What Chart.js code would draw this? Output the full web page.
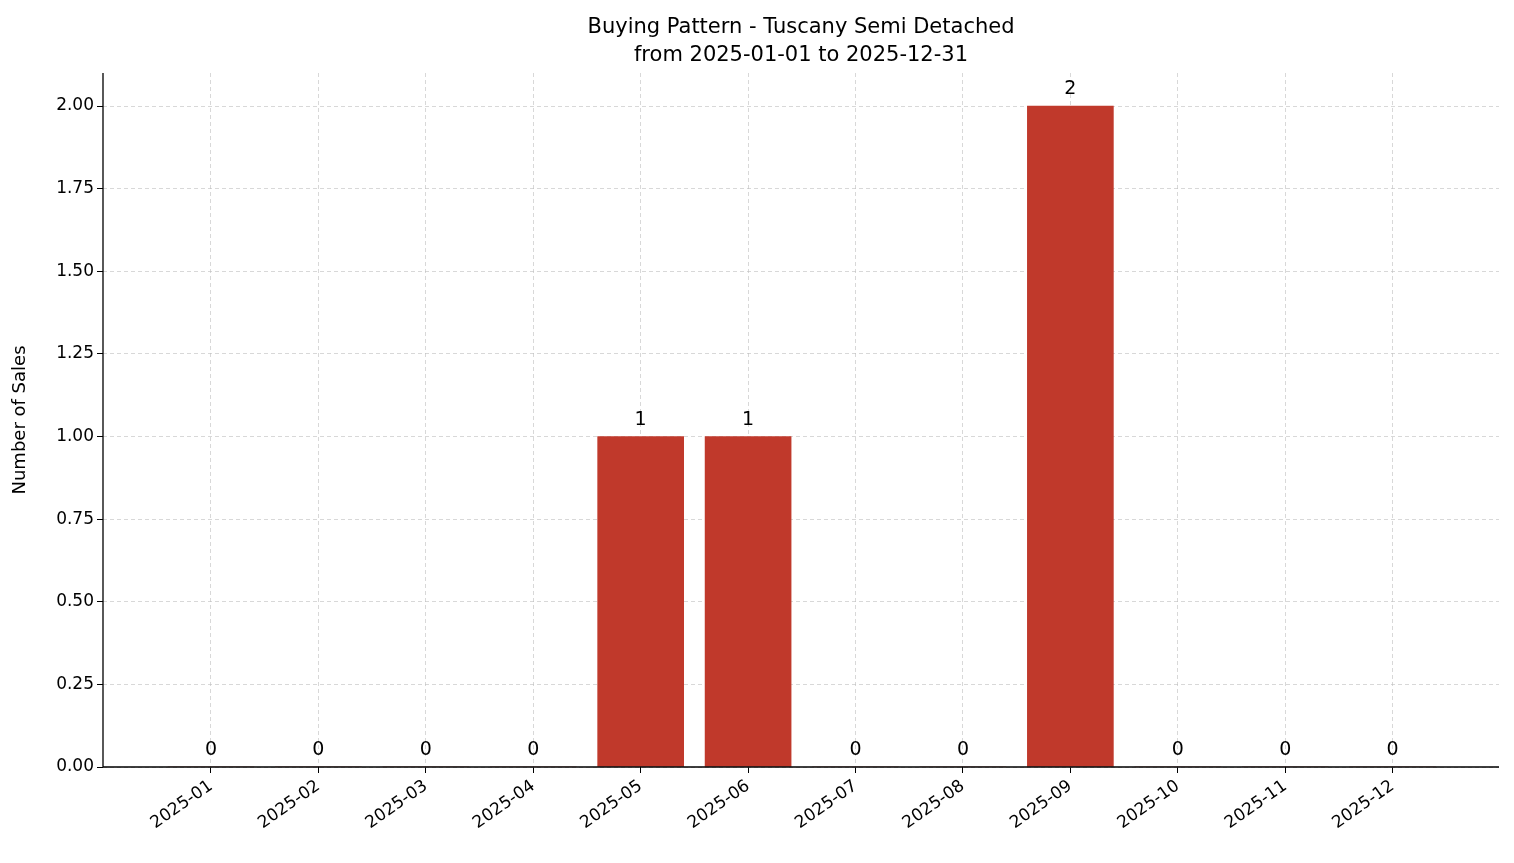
<!DOCTYPE html>
<html><head><meta charset="utf-8">
<script src="https://cdn.jsdelivr.net/npm/chart.js@4/dist/chart.umd.min.js"></script>
<style>html,body{margin:0;padding:0;background:#fff}#w{width:1514px;height:863px}</style>
</head><body><div id="w"><canvas id="c"></canvas></div>
<script>
const months = ["2025-01","2025-02","2025-03","2025-04","2025-05","2025-06","2025-07","2025-08","2025-09","2025-10","2025-11","2025-12"];
const sales = [0,0,0,0,1,1,0,0,2,0,0,0];
const titleLines = ["Buying Pattern - Tuscany Semi Detached","from 2025-01-01 to 2025-12-31"];
const FONT = "'DejaVu Sans', sans-serif";

const overlay = {
  id:'overlay',
  afterDatasetsDraw(chart){
    const ctx = chart.ctx, xs = chart.scales.x, ys = chart.scales.y;
    ctx.save();
    ctx.fillStyle = '#000';
    ctx.font = '19px ' + FONT;
    ctx.textAlign = 'center'; ctx.textBaseline = 'alphabetic';
    sales.forEach((v,i)=>{ ctx.fillText(String(v), xs.getPixelForValue(i), ys.getPixelForValue(v)-12); });
    ctx.font = '21px ' + FONT;
    ctx.fillText(titleLines[0], 801, 33);
    ctx.fillText(titleLines[1], 801, 61);
    ctx.strokeStyle = '#000'; ctx.lineWidth = 1.3;
    const a = chart.chartArea;
    ctx.beginPath(); ctx.moveTo(a.left, a.top); ctx.lineTo(a.left, a.bottom); ctx.lineTo(a.right, a.bottom); ctx.stroke();
    ctx.restore();
  }
};

new Chart(document.getElementById('c'), {
  type:'bar',
  data:{ datasets:[{ data: sales.map((v,i)=>({x:i,y:v})), backgroundColor:'#c0392b', borderWidth:0, barThickness:86 }] },
  options:{
    responsive:true, maintainAspectRatio:false, animation:false,
    layout:{ padding:{ top:73, right:15, left:0, bottom:0 } },
    plugins:{ legend:{display:false}, tooltip:{enabled:false}, title:{display:false} },
    scales:{
      x:{ type:'linear', min:-1.005, max:11.99, offset:false,
        afterFit(s){ s.height = 96; },
        afterBuildTicks(s){ s.ticks = months.map((m,i)=>({value:i})); },
        border:{display:false, dash:[4,3]},
        grid:{ offset:false, color:'rgba(190,190,190,0.6)', drawTicks:true, tickLength:6, tickColor:'#000' },
        ticks:{ autoSkip:false, maxRotation:35, minRotation:35, color:'#000', font:{family:FONT,size:17},
          callback:(v)=>months[v] }
      },
      y:{ min:0, max:2.1,
        afterFit(s){ s.width = 103; },
        afterBuildTicks(s){ s.ticks = [0,0.25,0.5,0.75,1,1.25,1.5,1.75,2].map(v=>({value:v})); },
        border:{display:false, dash:[4,3]},
        grid:{ color:'rgba(190,190,190,0.6)', tickLength:6, tickColor:'#000' },
        ticks:{ color:'#000', font:{family:FONT,size:17}, callback:(v)=>Number(v).toFixed(2) },
        title:{ display:true, text:'Number of Sales', color:'#000', font:{family:FONT,size:18}, padding:{top:10,bottom:4} }
      }
    }
  },
  plugins:[overlay]
});
</script></body></html>
